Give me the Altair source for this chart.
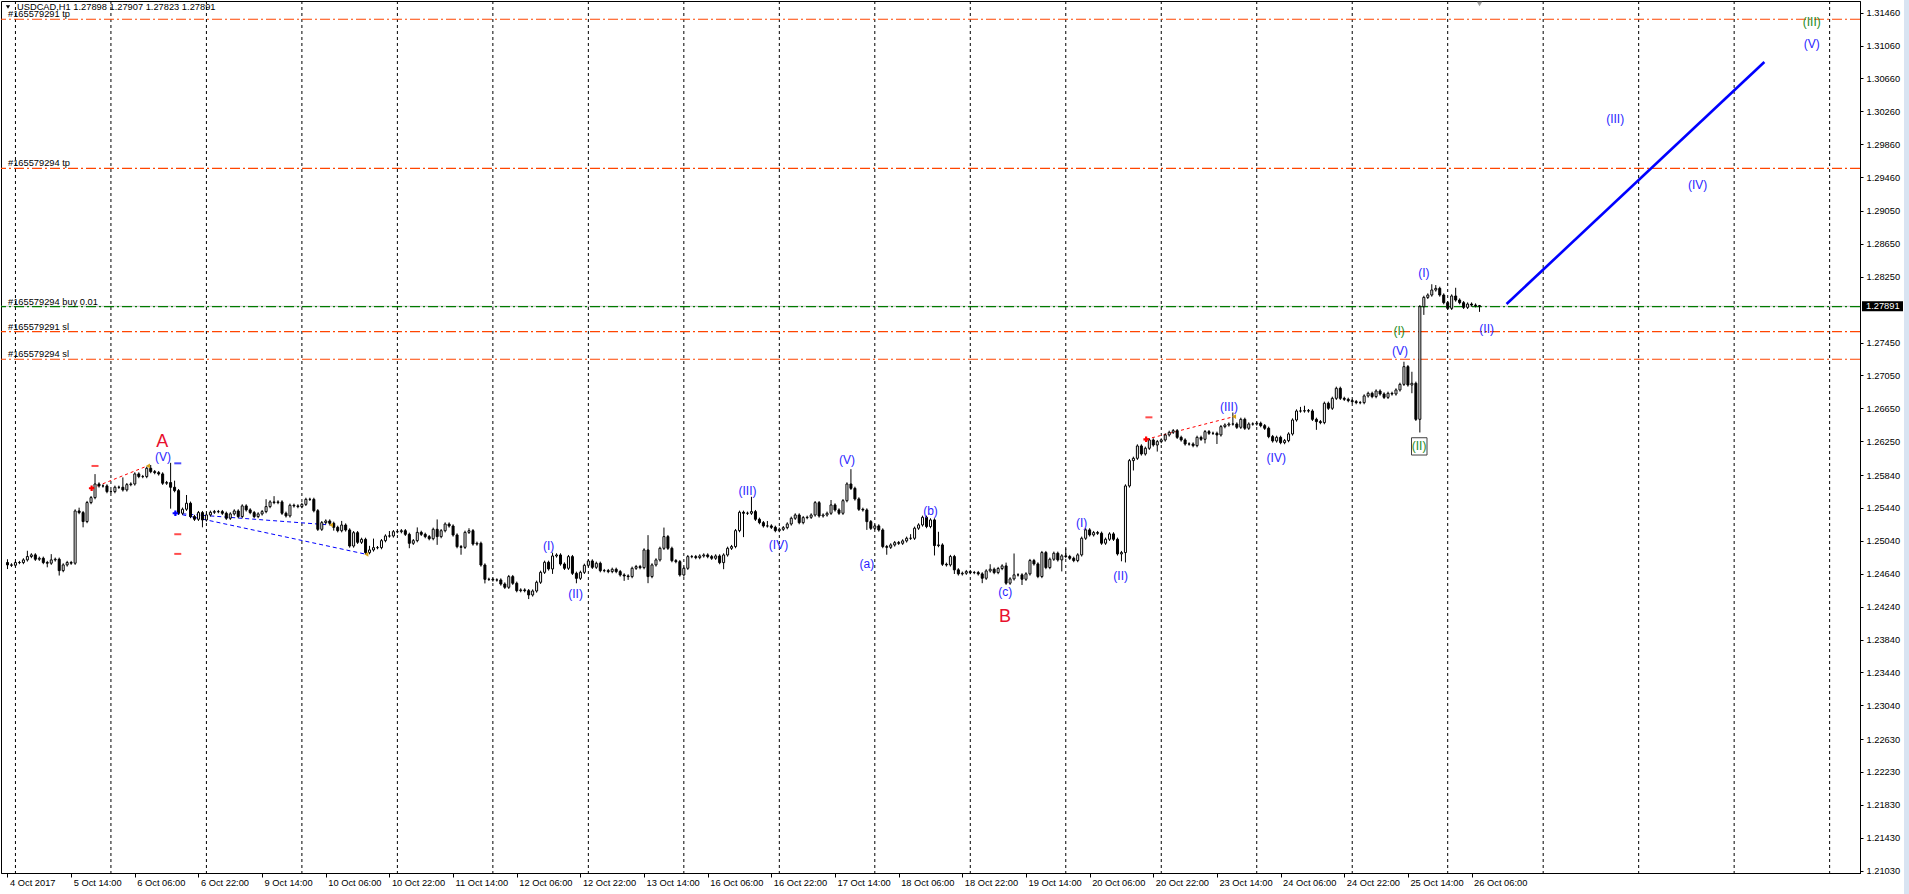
import json
import altair as alt
import pandas as pd

# ---------------- data ----------------
symbol = "USDCAD,H1"
last_ohlc = [1.27898, 1.27907, 1.27823, 1.27891]
bid_price = 1.27891

time_labels = ["4 Oct 2017", "5 Oct 14:00", "6 Oct 06:00", "6 Oct 22:00", "9 Oct 14:00",
               "10 Oct 06:00", "10 Oct 22:00", "11 Oct 14:00", "12 Oct 06:00", "12 Oct 22:00",
               "13 Oct 14:00", "16 Oct 06:00", "16 Oct 22:00", "17 Oct 14:00", "18 Oct 06:00",
               "18 Oct 22:00", "19 Oct 14:00", "20 Oct 06:00", "20 Oct 22:00", "23 Oct 14:00",
               "24 Oct 06:00", "24 Oct 22:00", "25 Oct 14:00", "26 Oct 06:00"]
bars_per_label = 16
bars_per_day = 24
first_midnight_bar = 2  # 5 Oct 00:00

y_ticks = [1.31460, 1.31060, 1.30660, 1.30260, 1.29860, 1.29460, 1.29050, 1.28650, 1.28250,
           1.27450, 1.27050, 1.26650, 1.26250, 1.25840, 1.25440, 1.25040, 1.24640, 1.24240,
           1.23840, 1.23440, 1.23040, 1.22630, 1.22230, 1.21830, 1.21430, 1.21030]

first_open = 1.24776
closes = [
    1.24747, 1.24743, 1.24776, 1.24776, 1.24808, 1.24849, 1.24869, 1.24816, 1.24828, 1.24776,
    1.24768, 1.24808, 1.24816, 1.24678, 1.24747, 1.24776, 1.24768, 1.25403, 1.25383, 1.25274,
    1.25505, 1.25565, 1.25731, 1.25707, 1.25707, 1.25638, 1.25638, 1.25691, 1.25691, 1.25659,
    1.25723, 1.25731, 1.25853, 1.25821, 1.25821, 1.25922, 1.25881, 1.25869, 1.25853, 1.25740,
    1.25748, 1.25691, 1.25650, 1.25375, 1.25424, 1.25497, 1.25335, 1.25302, 1.25383, 1.25294,
    1.25355, 1.25387, 1.25395, 1.25395, 1.25375, 1.25314, 1.25367, 1.25403, 1.25335, 1.25464,
    1.25416, 1.25383, 1.25335, 1.25367, 1.25395, 1.25456, 1.25513, 1.25505, 1.25513, 1.25375,
    1.25343, 1.25472, 1.25464, 1.25456, 1.25483, 1.25544, 1.25544, 1.25406, 1.25180, 1.25261,
    1.25281, 1.25253, 1.25204, 1.25163, 1.25232, 1.25172, 1.24977, 1.25139, 1.25022, 1.25058,
    1.24896, 1.24929, 1.24957, 1.24957, 1.25042, 1.25099, 1.25099, 1.25151, 1.25151, 1.25163,
    1.25119, 1.25010, 1.25042, 1.25143, 1.25119, 1.25091, 1.25066, 1.25180, 1.25091, 1.25163,
    1.25244, 1.25220, 1.25111, 1.24969, 1.24961, 1.25143, 1.25163, 1.25001, 1.25010, 1.24746,
    1.24572, 1.24572, 1.24564, 1.24564, 1.24515, 1.24475, 1.24605, 1.24524, 1.24434, 1.24443,
    1.24434, 1.24382, 1.24430, 1.24536, 1.24657, 1.24779, 1.24698, 1.24856, 1.24868, 1.24758,
    1.24706, 1.24848, 1.24645, 1.24584, 1.24657, 1.24742, 1.24795, 1.24718, 1.24767, 1.24677,
    1.24678, 1.24666, 1.24694, 1.24666, 1.24625, 1.24613, 1.24605, 1.24706, 1.24727, 1.24714,
    1.24929, 1.24605, 1.24747, 1.24808, 1.24949, 1.25091, 1.24949, 1.24799, 1.24787, 1.24625,
    1.24706, 1.24848, 1.24848, 1.24836, 1.24856, 1.24868, 1.24848, 1.24828, 1.24856, 1.24775,
    1.24868, 1.24949, 1.24970, 1.25164, 1.25387, 1.25375, 1.25375, 1.25395, 1.25302, 1.25261,
    1.25221, 1.25221, 1.25204, 1.25164, 1.25180, 1.25200, 1.25245, 1.25314, 1.25354, 1.25261,
    1.25322, 1.25326, 1.25354, 1.25504, 1.25342, 1.25354, 1.25375, 1.25476, 1.25415, 1.25375,
    1.25528, 1.25731, 1.25678, 1.25549, 1.25423, 1.25415, 1.25273, 1.25192, 1.25221, 1.25172,
    1.24970, 1.24961, 1.24990, 1.25018, 1.25010, 1.25039, 1.25071, 1.25071, 1.25193, 1.25233,
    1.25326, 1.25213, 1.25294, 1.24982, 1.24990, 1.24755, 1.24747, 1.24849, 1.24687, 1.24638,
    1.24646, 1.24666, 1.24654, 1.24654, 1.24638, 1.24585, 1.24674, 1.24695, 1.24654, 1.24703,
    1.24735, 1.24525, 1.24577, 1.24626, 1.24626, 1.24573, 1.24638, 1.24800, 1.24759, 1.24606,
    1.24897, 1.24715, 1.24816, 1.24889, 1.24808, 1.24857, 1.24849, 1.24828, 1.24800, 1.24869,
    1.25071, 1.25173, 1.25112, 1.25140, 1.25132, 1.25011, 1.25059, 1.25124, 1.25059, 1.24881,
    1.24897, 1.25707, 1.26015, 1.26043, 1.26193, 1.26096, 1.26165, 1.26266, 1.26205, 1.26246,
    1.26266, 1.26327, 1.26359, 1.26379, 1.26298, 1.26266, 1.26217, 1.26217, 1.26197, 1.26298,
    1.26274, 1.26367, 1.26347, 1.26347, 1.26327, 1.26428, 1.26448, 1.26460, 1.26460, 1.26420,
    1.26517, 1.26408, 1.26460, 1.26460, 1.26469, 1.26440, 1.26408, 1.26307, 1.26254, 1.26298,
    1.26234, 1.26258, 1.26339, 1.26509, 1.26618, 1.26618, 1.26622, 1.26618, 1.26517, 1.26489,
    1.26477, 1.26712, 1.26651, 1.26772, 1.26894, 1.26772, 1.26760, 1.26744, 1.26732, 1.26720,
    1.26720, 1.26801, 1.26833, 1.26793, 1.26861, 1.26825, 1.26784, 1.26833, 1.26825, 1.26874,
    1.26942, 1.27157, 1.26934, 1.26955, 1.26517, 1.27886, 1.27999, 1.28028, 1.28089, 1.28109,
    1.28028, 1.27935, 1.27866, 1.28016, 1.27967, 1.27935, 1.27878, 1.27918, 1.27906, 1.27898,
    1.27891,
]
# wick lengths beyond the body, in pips
upper_wick = [
    4, 2, 2, 2, 2, 7, 2, 2, 2, 2,   2, 7, 2, 2, 2, 2, 2, 2, 4, 2,
    2, 2, 12, 2, 2, 2, 2, 2, 2, 12, 2, 2, 2, 2, 2, 2, 4, 2, 2, 2,
    2, 24, 8, 2, 2, 10, 2, 2, 2, 2, 2, 2, 2, 2, 2, 2, 2, 2, 2, 2,
    2, 2, 2, 2, 2, 9, 2, 7, 2, 2,   2, 2, 2, 2, 2, 2, 2, 2, 2, 2,
    2, 2, 2, 2, 5, 2, 2, 2, 2, 2,   2, 5, 11, 2, 2, 2, 6, 2, 2, 2,
    2, 2, 2, 6, 2, 2, 2, 2, 12, 2,  2, 2, 2, 2, 2, 2, 3, 2, 2, 2,
    2, 2, 2, 2, 2, 2, 2, 2, 2, 2,   2, 2, 2, 2, 2, 2, 2, 4, 2, 2,
    2, 2, 2, 2, 2, 2, 2, 2, 2, 2,   2, 2, 2, 2, 2, 2, 2, 2, 2, 2,
    2, 18, 2, 2, 2, 11, 2, 2, 2, 2, 2, 2, 2, 2, 2, 2, 2, 2, 2, 2,
    2, 2, 2, 2, 2, 2, 2, 18, 2, 2,  2, 6, 2, 2, 2, 2, 2, 2, 2, 2,
    2, 2, 2, 2, 2, 2, 2, 6, 2, 2,   2, 2, 18, 2, 2, 2, 2, 2, 2, 2,
    2, 2, 2, 2, 2, 2, 2, 5, 2, 2,   2, 2, 2, 2, 16, 2, 2, 2, 2, 2,
    2, 2, 2, 2, 2, 2, 2, 6, 2, 2,   2, 4, 2, 26, 2, 2, 2, 2, 2, 2,
    2, 2, 2, 2, 2, 2, 9, 2, 2, 2,   2, 2, 2, 2, 2, 2, 2, 2, 2, 2,
    2, 2, 2, 2, 2, 2, 2, 2, 2, 2,   2, 2, 2, 2, 2, 2, 2, 2, 2, 2,
    2, 2, 2, 2, 2, 2, 2, 2, 14, 2,  2, 2, 2, 2, 2, 2, 2, 2, 2, 2,
    2, 2, 2, 2, 2, 5, 6, 2, 2, 2,   2, 2, 2, 2, 2, 2, 2, 2, 2, 2,
    2, 2, 2, 2, 2, 2, 2, 2, 2, 2,   2, 6, 2, 14, 2, 2, 2, 2, 7, 4,
    2, 2, 2, 2, 10, 2, 2, 2, 2, 2,  1,
]
lower_wick = [
    5, 2, 2, 2, 2, 2, 2, 2, 2, 2,   5, 2, 2, 6, 2, 2, 2, 2, 2, 7,
    2, 2, 2, 2, 2, 2, 2, 2, 2, 2,   2, 2, 2, 2, 2, 2, 2, 2, 2, 2,
    2, 26, 2, 2, 2, 2, 2, 2, 2, 9,  2, 2, 2, 2, 2, 2, 2, 2, 2, 2,
    2, 2, 2, 2, 2, 2, 2, 2, 2, 2,   2, 2, 2, 2, 2, 2, 2, 2, 2, 2,
    2, 2, 4, 2, 2, 2, 2, 2, 2, 2,   2, 2, 2, 2, 2, 2, 2, 2, 2, 2,
    2, 6, 2, 2, 2, 2, 2, 2, 10, 2,  2, 2, 2, 2, 9, 2, 2, 2, 2, 2,
    5, 2, 2, 2, 2, 2, 2, 2, 2, 2,   2, 5, 2, 2, 2, 2, 2, 6, 2, 2,
    2, 2, 2, 6, 2, 2, 2, 2, 2, 2,   2, 2, 2, 2, 2, 6, 4, 2, 2, 2,
    2, 8, 2, 2, 2, 2, 2, 2, 2, 2,   2, 2, 2, 2, 2, 2, 2, 2, 2, 2,
    8, 2, 2, 2, 2, 29, 2, 2, 2, 2,  2, 2, 2, 2, 2, 2, 2, 2, 2, 2,
    2, 2, 2, 2, 2, 2, 2, 2, 2, 2,   2, 2, 2, 2, 2, 2, 10, 2, 2, 2,
    2, 9, 2, 2, 2, 2, 2, 2, 2, 2,   2, 2, 2, 12, 2, 2, 2, 2, 5, 2,
    2, 2, 2, 2, 2, 6, 2, 2, 2, 2,   2, 2, 2, 2, 2, 7, 2, 2, 2, 2,
    2, 2, 2, 2, 2, 14, 2, 2, 2, 2,  2, 2, 2, 2, 2, 2, 2, 2, 2, 2,
    9, 12, 2, 12, 2, 2, 2, 2, 2, 8, 2, 2, 2, 2, 2, 2, 2, 2, 2, 2,
    2, 5, 2, 2, 11, 2, 2, 2, 2, 2,  2, 2, 2, 2, 2, 2, 2, 2, 2, 2,
    2, 2, 2, 2, 2, 2, 2, 2, 2, 10,  2, 2, 2, 2, 2, 2, 2, 2, 2, 2,
    2, 2, 2, 2, 2, 2, 2, 2, 2, 2,   2, 2, 2, 10, 2, 16, 10, 2, 2, 2,
    2, 2, 2, 2, 2, 2, 2, 2, 2, 2,   7,
]

# order lines
order_labels = ["#165579291 tp", "#165579294 tp", "#165579294 buy 0.01", "#165579291 sl", "#165579294 sl"]
order_prices = [1.31380, 1.29568, 1.27886, 1.27582, 1.27247]
order_colors = ["#FF4500", "#FF4500", "#007A00", "#FF4500", "#FF4500"]

# closed-trade history lines (bar index, price)
trade_ids = ["s1", "s1", "b1", "b1", "b2", "b2", "s2", "s2"]
trade_bars = [21.15, 35.15, 42.2, 81.3, 42.2, 90.2, 286.2, 308.3]
trade_prices = [1.25679, 1.25950, 1.25375, 1.25232, 1.25375, 1.24876, 1.26274, 1.26550]
trade_colors = ["#FF0000", "#FF0000", "#0000FF", "#0000FF", "#0000FF", "#0000FF", "#FF0000", "#FF0000"]

open_mark_bars = [21.15, 42.2, 286.2]
open_mark_prices = [1.25679, 1.25375, 1.26274]
open_mark_colors = ["#FF0000", "#0000FF", "#FF0000"]
close_mark_bars = [35.3, 81.3, 90.2, 308.3]
close_mark_prices = [1.25950, 1.25232, 1.24876, 1.26550]
level_mark_bars = [22.0, 42.8, 42.8, 42.8, 286.9]
level_mark_prices = [1.25950, 1.25120, 1.24881, 1.25982, 1.26541]
level_mark_colors = ["#FF0000", "#FF0000", "#FF0000", "#0000FF", "#FF0000"]

# forecast trend line
forecast_bars = [376.8, 441.6]
forecast_prices = [1.27919, 1.30860]

# Elliott wave labels
BLUE = "#2A1EFF"
GREEN = "#1E8C1E"
RED = "#E8102E"
wave_text = ["A", "(V)", "(I)", "(II)", "(III)", "(IV)", "(V)", "(a)", "(b)", "(c)", "B",
             "(I)", "(II)", "(III)", "(IV)", "(V)", "(I)", "(II)", "(I)", "(II)",
             "(III)", "(IV)", "(V)", "(III)"]
wave_bar = [38.9, 39.1, 136.0, 142.8, 186.0, 193.8, 211.0, 216.0, 232.0, 250.8, 250.7,
            270.0, 279.8, 307.0, 318.9, 350.0, 349.8, 354.8, 356.0, 371.8,
            404.1, 424.8, 453.5, 453.5]
wave_price = [1.26245, 1.26062, 1.24977, 1.24390, 1.25645, 1.24989, 1.26022, 1.24758, 1.25406,
              1.24421, 1.24114, 1.25253, 1.24612, 1.26670, 1.26043, 1.27347, 1.27590, 1.26192,
              1.28292, 1.27611, 1.30164, 1.29365, 1.31082, 1.31348]
wave_color = [RED, BLUE, BLUE, BLUE, BLUE, BLUE, BLUE, BLUE, BLUE, BLUE, RED,
              BLUE, BLUE, BLUE, BLUE, BLUE, GREEN, GREEN, BLUE, BLUE,
              BLUE, BLUE, BLUE, GREEN]
wave_size = [18, 12, 12, 12, 12, 12, 12, 12, 12, 12, 18, 12, 12, 12, 12, 12, 12, 12, 12, 12,
             12, 12, 12, 12]
box_bar = [352.9, 356.8]
box_price = [1.26083, 1.26293]

# ---------------- tables ----------------
opens = [first_open] + closes[:-1]
candles = pd.DataFrame({
    "bar": list(range(len(closes))),
    "open": opens,
    "close": closes,
})
candles["high"] = [max(o, c) + u * 0.0001 for o, c, u in zip(opens, closes, upper_wick)]
candles["low"] = [min(o, c) - l * 0.0001 for o, c, l in zip(opens, closes, lower_wick)]
candles.loc[len(closes) - 1, "high"] = last_ohlc[1]
candles.loc[len(closes) - 1, "low"] = last_ohlc[2]

day_lines = pd.DataFrame({"bar": list(range(first_midnight_bar, 465, bars_per_day))})
orders = pd.DataFrame({"label": order_labels, "price": order_prices, "color": order_colors})
trades = pd.DataFrame({"trade": trade_ids, "bar": trade_bars, "price": trade_prices, "color": trade_colors})
opens_df = pd.DataFrame({"bar": open_mark_bars, "price": open_mark_prices, "color": open_mark_colors})
closes_df = pd.DataFrame({"bar": close_mark_bars, "price": close_mark_prices})
levels_df = pd.DataFrame({"bar": level_mark_bars, "price": level_mark_prices, "color": level_mark_colors})
forecast = pd.DataFrame({"bar": forecast_bars, "price": forecast_prices})
waves = pd.DataFrame({"text": wave_text, "bar": wave_bar, "price": wave_price,
                      "color": wave_color, "size": wave_size})
box = pd.DataFrame({"bar": [box_bar[0]], "bar2": [box_bar[1]],
                    "price": [box_price[0]], "price2": [box_price[1]]})
bid_df = pd.DataFrame({"price": [bid_price], "label": [f"{bid_price:.5f}"]})
header_df = pd.DataFrame({"text": [f"{symbol}  " + " ".join(f"{v:.5f}" for v in last_ohlc)]})
shift_df = pd.DataFrame({"bar": [len(closes) - 1]})

# ---------------- scales / axes ----------------
FONT = "Liberation Sans"
x_scale = alt.Scale(domain=[-0.375, 464.375], nice=False, zero=False)
y_scale = alt.Scale(domain=[1.21002, 1.31602], nice=False, zero=False)
label_expr = json.dumps(time_labels) + f"[round(datum.value / {bars_per_label})]"
x_axis = alt.Axis(values=[k * bars_per_label for k in range(len(time_labels))], labelExpr=label_expr,
                  title=None, grid=False, tickSize=4, tickColor="black", domainColor="black",
                  labelFont=FONT, labelFontSize=9.3, labelColor="black", labelAlign="left",
                  labelPadding=1, labelOverlap=False, labelBound=False, labelFlush=False, labelOffset=2)
y_axis = alt.Axis(orient="right", values=y_ticks, format=".5f", title=None, grid=False, tickSize=3,
                  tickColor="black", domainColor="black", labelFont=FONT, labelFontSize=9.3,
                  labelColor="black", labelPadding=3, labelOverlap=False, labelBound=False,
                  labelFlush=False)


def X(field="bar"):
    return alt.X(f"{field}:Q", scale=x_scale, axis=x_axis)


def Y(field="price"):
    return alt.Y(f"{field}:Q", scale=y_scale, axis=y_axis)


# ---------------- layers ----------------
grid = alt.Chart(day_lines).mark_rule(color="black", strokeWidth=1, strokeDash=[3, 3]).encode(x=X())

bid_line = alt.Chart(bid_df).mark_rule(color="#C0C0C0", strokeWidth=1).encode(y=Y())
order_lines = alt.Chart(orders).mark_rule(strokeWidth=1.2, strokeDash=[10, 3, 2, 3]).encode(
    y=Y(), color=alt.Color("color:N", scale=None))
order_text = alt.Chart(orders).mark_text(align="left", baseline="alphabetic", dy=-2, font=FONT,
                                         fontSize=9.3, color="black").encode(
    x=alt.value(7), y=Y(), text="label:N")

red_trades = alt.Chart(trades[trades["color"] == "#FF0000"]).mark_line(
    color="#FF0000", strokeWidth=1, strokeDash=[3, 3]).encode(x=X(), y=Y(), detail="trade:N")
blue_trades = alt.Chart(trades[trades["color"] == "#0000FF"]).mark_line(
    color="#0000FF", strokeWidth=1, strokeDash=[4, 3]).encode(x=X(), y=Y(), detail="trade:N")

wicks = alt.Chart(candles).mark_rule(color="black", strokeWidth=1).encode(
    x=X(), y=Y("low"), y2=alt.Y2("high:Q"))
bodies = alt.Chart(candles).mark_bar(size=2, stroke="black", strokeWidth=1).encode(
    x=X(), y=Y("open"), y2=alt.Y2("close:Q"),
    fill=alt.condition("datum.open > datum.close", alt.value("black"), alt.value("white")))

open_marks = alt.Chart(opens_df).mark_point(shape="cross", filled=True, size=30, opacity=1).encode(
    x=X(), y=Y(), color=alt.Color("color:N", scale=None))
close_marks = alt.Chart(closes_df).mark_point(shape="triangle-left", filled=True, size=22,
                                              color="#D4A017", opacity=1).encode(x=X(), y=Y())
level_marks = alt.Chart(levels_df).mark_tick(orient="horizontal", size=7, thickness=2).encode(
    x=X(), y=Y(), color=alt.Color("color:N", scale=None))

forecast_line = alt.Chart(forecast).mark_line(color="#0000FF", strokeWidth=2.6).encode(x=X(), y=Y())

wave_labels = alt.Chart(waves).mark_text(font=FONT, baseline="middle", align="center").encode(
    x=X(), y=Y(), text="text:N", color=alt.Color("color:N", scale=None),
    size=alt.Size("size:Q", scale=None))
wave_box = alt.Chart(box).mark_rect(fillOpacity=0, stroke="#404040", strokeWidth=1).encode(
    x=X(), x2=alt.X2("bar2:Q"), y=Y(), y2=alt.Y2("price2:Q"))

header_mark = alt.Chart(header_df).mark_text(align="left", baseline="middle", font=FONT,
                                             fontSize=9.3, color="black").encode(
    x=alt.value(16), y=alt.value(6), text="text:N")
header_arrow = alt.Chart(header_df).mark_point(shape="triangle-down", filled=True, size=18,
                                               color="black", opacity=1).encode(
    x=alt.value(7), y=alt.value(6))
shift_mark = alt.Chart(shift_df).mark_point(shape="triangle-down", filled=True, size=30,
                                            color="#A0A0A0", opacity=1).encode(
    x=X(), y=alt.value(3))

price_box = alt.Chart(bid_df).mark_rect(color="black", yOffset=-5, y2Offset=5).encode(
    x=alt.value(1861), x2=alt.value(1902), y=Y(), y2=alt.Y2("price:Q"))
price_text = alt.Chart(bid_df).mark_text(align="left", baseline="middle", font=FONT, fontSize=9.3,
                                         color="white").encode(
    x=alt.value(1865), y=Y(), text="label:N")
side_strip = alt.Chart(bid_df).mark_rect(color="#D9E4F2").encode(
    x=alt.value(1903), x2=alt.value(1908), y=alt.value(-1), y2=alt.value(893))

chart = alt.layer(
    grid, bid_line, order_lines, red_trades, blue_trades, wicks, bodies,
    open_marks, close_marks, level_marks, forecast_line, wave_box, wave_labels,
    order_text, header_mark, header_arrow, shift_mark, side_strip, price_box, price_text,
).properties(
    width=1859, height=872,
    autosize=alt.AutoSizeParams(type="none"),
    padding={"left": 1, "top": 1, "right": 49, "bottom": 21},
    background="white",
).configure_view(stroke="black", strokeWidth=1)

chart.save("out.html", embed_options={"renderer": "svg", "actions": False})
